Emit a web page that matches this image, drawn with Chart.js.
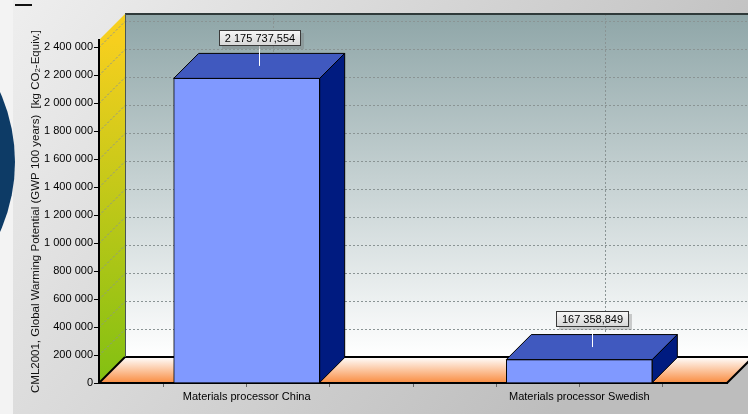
<!DOCTYPE html>
<html>
<head>
<meta charset="utf-8">
<script src="https://cdn.jsdelivr.net/npm/chart.js@4.4.0/dist/chart.umd.min.js"></script>
<style>
  html, body { margin: 0; padding: 0; background: #e0e0e0; }
  #wrap { width: 748px; height: 414px; }
</style>
</head>
<body>
<div id="wrap"><canvas id="gwpChart" width="748" height="414"></canvas></div>
<script>
const categories = ['Materials processor China', 'Materials processor Swedish'];
const gwpValues = [2175737.554, 167358.849];
const yTickValues = [0, 200000, 400000, 600000, 800000, 1000000, 1200000,
                     1400000, 1600000, 1800000, 2000000, 2200000, 2400000];
const yAxisTitle = 'CML2001, Global Warming Potential (GWP 100 years)  [kg CO\u2082-Equiv.]';

const DEPTH = 26;      // wall / floor depth
const BAR_DEPTH = 25;  // bar depth

function groupDigits(s) {
    return s.replace(/\B(?=(\d{3})+(?!\d))/g, ' ');
}
function fmtNumber(v, decimals) {
    const parts = v.toFixed(decimals).split('.');
    return groupDigits(parts[0]) + (parts[1] ? ',' + parts[1] : '');
}

function path(ctx, pts) {
    ctx.beginPath();
    ctx.moveTo(pts[0][0], pts[0][1]);
    for (let i = 1; i < pts.length; i++) ctx.lineTo(pts[i][0], pts[i][1]);
    ctx.closePath();
}
function line(ctx, x1, y1, x2, y2) {
    ctx.beginPath();
    ctx.moveTo(x1, y1);
    ctx.lineTo(x2, y2);
    ctx.stroke();
}

const threeD = {
    id: 'threeD',
    beforeDraw(chart) {
        const { ctx, chartArea: a, scales } = chart;
        const xs = scales.x, ys = scales.y;
        const L = a.left, R = a.right, T = a.top, B = a.bottom, D = DEPTH;
        ctx.save();

        // page background
        let g = ctx.createLinearGradient(0, 0, 560, 414);
        g.addColorStop(0, '#efefef');
        g.addColorStop(1, '#bdbdbd');
        ctx.fillStyle = g;
        ctx.fillRect(0, 0, chart.width, chart.height);

        // bits cut off at the left edge
        ctx.fillStyle = '#f3f3f3';
        ctx.fillRect(0, 0, 13, chart.height);
        ctx.fillStyle = '#0d3b66';
        ctx.beginPath();
        ctx.arc(-156, 162, 171, 0, Math.PI * 2);
        ctx.fill();
        ctx.fillStyle = '#111';
        ctx.fillRect(15, 4, 17, 2);

        // back wall
        g = ctx.createLinearGradient(0, T - D, 0, B - D);
        g.addColorStop(0, '#8fa6a8');
        g.addColorStop(1, '#ffffff');
        ctx.fillStyle = g;
        ctx.fillRect(L + D, T - D, R - L, B - T);

        // side wall
        g = ctx.createLinearGradient(0, T, 0, B);
        g.addColorStop(0, '#f6cf1e');
        g.addColorStop(1, '#82c012');
        ctx.fillStyle = g;
        path(ctx, [[L, B], [L, T], [L + D, T - D], [L + D, B - D]]);
        ctx.fill();

        // floor
        g = ctx.createLinearGradient(0, B - D, 0, B);
        g.addColorStop(0, '#ffffff');
        g.addColorStop(1, '#f98c40');
        ctx.fillStyle = g;
        path(ctx, [[L, B], [L + D, B - D], [R + D, B - D], [R, B]]);
        ctx.fill();

        // grid lines on walls
        ctx.setLineDash([2, 2]);
        ctx.strokeStyle = '#8a9494';
        ctx.lineWidth = 1;
        ys.ticks.forEach(t => {
            if (t.value === 0) return;
            const py = Math.round(ys.getPixelForValue(t.value)) + 0.5;
            line(ctx, L + D, py - D, R + D, py - D);
            line(ctx, L, py, L + D, py - D);
        });
        categories.forEach((c, i) => {
            const px = Math.round(xs.getPixelForValue(i)) + D + 0.5;
            line(ctx, px, T - D, px, B - D);
        });
        ctx.setLineDash([]);

        // edges
        ctx.strokeStyle = '#000';
        ctx.lineWidth = 2;
        line(ctx, L, B, L + D, B - D);
        line(ctx, L + D, B - D, R + D, B - D);
        line(ctx, R, B, R + D, B - D);
        ctx.strokeStyle = '#2f3a3a';
        line(ctx, L + D, T - D, R + D, T - D);
        ctx.lineWidth = 1;
        ctx.strokeStyle = '#4a5656';
        line(ctx, L + D + 0.5, T - D, L + D + 0.5, B - D);

        ctx.restore();
    },
    afterDatasetsDraw(chart) {
        const { ctx } = chart;
        const meta = chart.getDatasetMeta(0);
        ctx.save();
        meta.data.forEach((bar, i) => {
            const { x, y, base, width } = bar.getProps(['x', 'y', 'base', 'width'], true);
            const l = x - width / 2, r = x + width / 2, d = BAR_DEPTH;
            ctx.lineWidth = 1;
            ctx.strokeStyle = '#000';

            ctx.fillStyle = '#4059bf';
            path(ctx, [[l, y], [l + d, y - d], [r + d, y - d], [r, y]]);
            ctx.fill();
            ctx.stroke();

            ctx.fillStyle = '#001b80';
            path(ctx, [[r, y], [r + d, y - d], [r + d, base - d], [r, base]]);
            ctx.fill();
            ctx.stroke();

            // value label with leader line
            const cx = Math.round(x + d / 2) + 0.5;
            const cy = y - d / 2;
            const text = fmtNumber(gwpValues[i], 3);
            ctx.font = '11px "Liberation Sans", Arial, sans-serif';
            const w = Math.round(ctx.measureText(text).width) + 12;
            const h = 16;
            const bx = Math.round(cx - w / 2), by = Math.round(cy - 20 - h);

            ctx.strokeStyle = '#ffffff';
            line(ctx, cx, cy, cx, by + h);

            ctx.fillStyle = 'rgba(120,120,120,0.35)';
            ctx.fillRect(bx + 3, by + 3, w, h);
            const g = ctx.createLinearGradient(0, by, 0, by + h);
            g.addColorStop(0, '#f8f8f8');
            g.addColorStop(1, '#d6d6d6');
            ctx.fillStyle = g;
            ctx.fillRect(bx, by, w, h);
            ctx.strokeStyle = '#3a3a3a';
            ctx.strokeRect(bx + 0.5, by + 0.5, w - 1, h - 1);

            ctx.fillStyle = '#000';
            ctx.textAlign = 'center';
            ctx.textBaseline = 'middle';
            ctx.fillText(text, bx + w / 2, by + h / 2 + 0.5);
        });
        ctx.restore();
    }
};

Chart.defaults.font.family = '"Liberation Sans", Arial, sans-serif';
Chart.defaults.font.size = 11;
Chart.defaults.color = '#000';

new Chart(document.getElementById('gwpChart').getContext('2d'), {
    type: 'bar',
    data: {
        datasets: [{
            data: gwpValues.map((v, i) => ({ x: i, y: v })),
            backgroundColor: '#8099ff',
            borderColor: '#000',
            borderWidth: 1,
            barThickness: 146
        }]
    },
    options: {
        responsive: false,
        animation: false,
        layout: { padding: { left: 0, right: 21, top: 40, bottom: 0 } },
        plugins: {
            legend: { display: false },
            tooltip: { enabled: false }
        },
        scales: {
            x: {
                type: 'linear',
                min: -0.444,
                max: 1.444,
                offset: false,
                afterFit: s => { s.height = 31; },
                ticks: {
                    stepSize: 0.25,
                    maxTicksLimit: 20,
                    includeBounds: false,
                    autoSkip: false,
                    maxRotation: 0,
                    padding: 3,
                    callback: v => Number.isInteger(v) ? categories[v] : ''
                },
                grid: { offset: false, drawOnChartArea: false, tickLength: 4, color: '#666' },
                border: { display: true, color: '#000', width: 2 }
            },
            y: {
                min: 0,
                max: 2450000,
                afterFit: s => { s.width = 99; },
                afterBuildTicks: s => { s.ticks = yTickValues.map(v => ({ value: v })); },
                ticks: {
                    autoSkip: false,
                    padding: 1,
                    callback: v => groupDigits(String(v))
                },
                grid: { drawOnChartArea: false, tickLength: 5, color: '#000' },
                border: { display: true, color: '#000', width: 2 },
                title: {
                    display: true,
                    text: yAxisTitle,
                    color: '#111',
                    font: { size: 11.5 },
                    padding: { top: 29, bottom: 0 }
                }
            }
        }
    },
    plugins: [threeD]
});
</script>
</body>
</html>
